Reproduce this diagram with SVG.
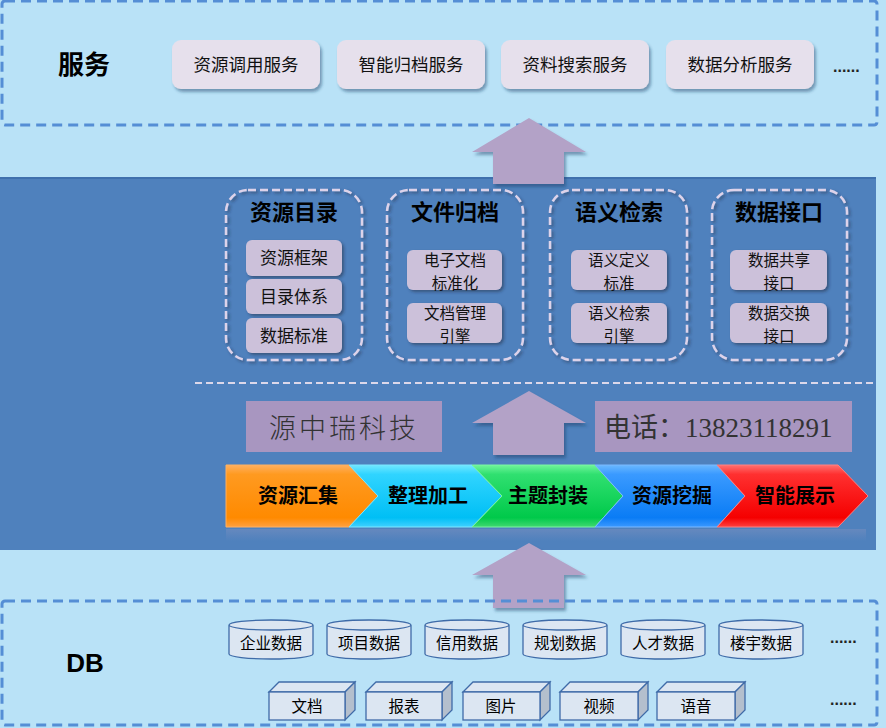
<svg xmlns="http://www.w3.org/2000/svg" width="886" height="728" viewBox="0 0 886 728">
<defs>
<filter id="sh" x="-10%" y="-10%" width="125%" height="140%">
<feDropShadow dx="2" dy="3" stdDeviation="1.5" flood-color="#1f3a60" flood-opacity="0.45"/>
</filter>
<filter id="sh2" x="-10%" y="-10%" width="125%" height="140%">
<feDropShadow dx="2" dy="2" stdDeviation="1.5" flood-color="#1f2a40" flood-opacity="0.5"/>
</filter>
<linearGradient id="gO" x1="0" y1="0" x2="0" y2="1"><stop offset="0" stop-color="#ffb060"/><stop offset="0.15" stop-color="#ff9a20"/><stop offset="0.85" stop-color="#ff8a00"/><stop offset="1" stop-color="#ffa040"/></linearGradient>
<linearGradient id="gC" x1="0" y1="0" x2="0" y2="1"><stop offset="0" stop-color="#70e8ff"/><stop offset="0.15" stop-color="#30d4ff"/><stop offset="0.85" stop-color="#00bff5"/><stop offset="1" stop-color="#40d0ff"/></linearGradient>
<linearGradient id="gG" x1="0" y1="0" x2="0" y2="1"><stop offset="0" stop-color="#70f59a"/><stop offset="0.15" stop-color="#30e070"/><stop offset="0.85" stop-color="#00c94a"/><stop offset="1" stop-color="#40d870"/></linearGradient>
<linearGradient id="gB" x1="0" y1="0" x2="0" y2="1"><stop offset="0" stop-color="#6ab8ff"/><stop offset="0.15" stop-color="#3a9aff"/><stop offset="0.85" stop-color="#0a7cf5"/><stop offset="1" stop-color="#3a98ff"/></linearGradient>
<linearGradient id="gR" x1="0" y1="0" x2="0" y2="1"><stop offset="0" stop-color="#ff7070"/><stop offset="0.15" stop-color="#ff3030"/><stop offset="0.85" stop-color="#f50000"/><stop offset="1" stop-color="#ff4040"/></linearGradient>
<linearGradient id="refl" x1="0" y1="0" x2="0" y2="1"><stop offset="0" stop-color="#8f96c0" stop-opacity="0.35"/><stop offset="1" stop-color="#8f96c0" stop-opacity="0"/></linearGradient>
</defs>
<style>
.zh{font-family:"Noto Sans CJK SC","Liberation Sans",sans-serif;}
.svc{fill:#e6e0ec;filter:url(#sh);}
.svct{font-size:17.5px;fill:#111;text-anchor:middle;}
.outer{fill:none;stroke:#558ed5;stroke-width:3;stroke-dasharray:10 6;}
.grp{fill:none;stroke:#ddd3ea;stroke-width:2.5;stroke-dasharray:8 4;filter:url(#sh2);}
.gt{font-size:22px;font-weight:bold;fill:#000;text-anchor:middle;}
.ib{fill:#ccc1da;filter:url(#sh2);}
.it{font-size:17px;fill:#111;text-anchor:middle;}
.it2{font-size:15.5px;fill:#111;text-anchor:middle;}
.arrow{fill:#b3a2c7;filter:url(#sh);}
.ct{font-size:20px;font-weight:bold;fill:#000;text-anchor:middle;}
.cyl{fill:#dce6f2;stroke:#3f6ba8;stroke-width:1.3;}
.cylt{font-size:15.5px;fill:#000;text-anchor:middle;}
.bxf{fill:#dce6f2;stroke:#3f6ba8;stroke-width:1.3;}
.bxs{fill:#b4bfcd;stroke:#3f6ba8;stroke-width:1.3;}
.dots{font-family:"Liberation Sans",sans-serif;font-size:16px;font-weight:bold;fill:#222;}
</style>
<rect x="0" y="0" width="886" height="728" fill="#b9e2f7"/>
<!-- middle band -->
<rect x="0" y="177" width="876" height="373" fill="#4f81bd"/>
<line x1="0" y1="178" x2="876" y2="178" stroke="#3f70ad" stroke-width="2"/>

<!-- service layer -->
<g id="service-layer">
<rect class="outer" x="2" y="1" width="875" height="124" rx="3"/>
<text class="zh" x="84" y="74" font-size="26" font-weight="bold" text-anchor="middle">服务</text>
</g>
<g id="svc1"><rect class="svc" x="172" y="40" width="148" height="49" rx="9"/><text class="zh svct" x="246" y="71">资源调用服务</text></g>
<g id="svc2"><rect class="svc" x="337" y="40" width="148" height="49" rx="9"/><text class="zh svct" x="411" y="71">智能归档服务</text></g>
<g id="svc3"><rect class="svc" x="501" y="40" width="148" height="49" rx="9"/><text class="zh svct" x="575" y="71">资料搜索服务</text></g>
<g id="svc4"><rect class="svc" x="666" y="40" width="148" height="49" rx="9"/><text class="zh svct" x="740" y="71">数据分析服务</text></g>
<text class="dots" x="833" y="72">......</text>

<!-- groups -->
<g id="g-catalog">
<rect class="grp" x="226" y="190" width="136" height="170" rx="22"/>
<text class="zh gt" x="294" y="220">资源目录</text>
<rect class="ib" x="246" y="240" width="96" height="36" rx="6"/><text class="zh it" x="294" y="264">资源框架</text>
<rect class="ib" x="246" y="279" width="96" height="35" rx="6"/><text class="zh it" x="294" y="303">目录体系</text>
<rect class="ib" x="246" y="318" width="96" height="35" rx="6"/><text class="zh it" x="294" y="342">数据标准</text>
</g>
<g id="g-archive">
<rect class="grp" x="387" y="190" width="136" height="170" rx="22"/>
<text class="zh gt" x="455" y="220">文件归档</text>
<rect class="ib" x="407" y="250" width="95" height="40" rx="6"/><text class="zh it2" x="455" y="266"><tspan x="455">电子文档</tspan><tspan x="455" dy="22.6">标准化</tspan></text>
<rect class="ib" x="407" y="303" width="95" height="40" rx="6"/><text class="zh it2" x="455" y="319"><tspan x="455">文档管理</tspan><tspan x="455" dy="22.6">引擎</tspan></text>
</g>
<g id="g-semantic">
<rect class="grp" x="550" y="190" width="137" height="170" rx="22"/>
<text class="zh gt" x="619" y="220">语义检索</text>
<rect class="ib" x="571" y="250" width="96" height="40" rx="6"/><text class="zh it2" x="619" y="266"><tspan x="619">语义定义</tspan><tspan x="619" dy="22.6">标准</tspan></text>
<rect class="ib" x="571" y="303" width="96" height="40" rx="6"/><text class="zh it2" x="619" y="319"><tspan x="619">语义检索</tspan><tspan x="619" dy="22.6">引擎</tspan></text>
</g>
<g id="g-interface">
<rect class="grp" x="712" y="190" width="135" height="170" rx="22"/>
<text class="zh gt" x="779" y="220">数据接口</text>
<rect class="ib" x="730" y="250" width="97" height="40" rx="6"/><text class="zh it2" x="779" y="266"><tspan x="779">数据共享</tspan><tspan x="779" dy="22.6">接口</tspan></text>
<rect class="ib" x="730" y="303" width="97" height="40" rx="6"/><text class="zh it2" x="779" y="319"><tspan x="779">数据交换</tspan><tspan x="779" dy="22.6">接口</tspan></text>
</g>

<line x1="195" y1="383" x2="876" y2="383" stroke="#dcd8ea" stroke-width="2" stroke-dasharray="7 4"/>

<g id="brand">
<rect x="246" y="401" width="196" height="51" fill="#a896c0"/>
<text x="269" y="438" font-family="Noto Sans CJK SC,sans-serif" font-size="27" fill="#333" letter-spacing="3" font-weight="300">源中瑞科技</text>
</g>
<g id="phone">
<rect x="595" y="401" width="257" height="51" fill="#a896c0"/>
<text x="604" y="437" font-family="Liberation Serif,Noto Sans CJK SC,serif" font-size="27" fill="#333">电话：13823118291</text>
</g>

<!-- chevrons -->
<g id="process">
<rect x="226" y="529" width="640" height="12" fill="url(#refl)"/>
<g id="c1"><path d="M226,465 L349,465 L378,496 L349,527 L226,527 Z" fill="url(#gO)" stroke="#ffb060" stroke-width="1"/><text class="zh ct" x="298" y="503">资源汇集</text></g>
<g id="c2"><path d="M349,465 L472,465 L502,496 L472,527 L349,527 L378,496 Z" fill="url(#gC)" stroke="#7ae6ff" stroke-width="1"/><text class="zh ct" x="428" y="503">整理加工</text></g>
<g id="c3"><path d="M472,465 L595,465 L623,496 L595,527 L472,527 L502,496 Z" fill="url(#gG)" stroke="#7af5a0" stroke-width="1"/><text class="zh ct" x="548" y="503">主题封装</text></g>
<g id="c4"><path d="M595,465 L717,465 L745,496 L717,527 L595,527 L623,496 Z" fill="url(#gB)" stroke="#7ab8ff" stroke-width="1"/><text class="zh ct" x="672" y="503">资源挖掘</text></g>
<g id="c5"><path d="M717,465 L838,465 L868,496 L838,527 L717,527 L745,496 Z" fill="url(#gR)" stroke="#ff8080" stroke-width="1"/><text class="zh ct" x="795" y="503">智能展示</text></g>
</g>

<!-- arrows -->
<g id="connectors">
<path class="arrow" d="M529,118 L586,152 L564,152 L564,184 L493,184 L493,152 L472,152 Z"/>
<path class="arrow" d="M529,391 L586,423 L564,423 L564,455 L493,455 L493,423 L472,423 Z"/>
<path class="arrow" d="M529,543 L586,575 L564,575 L564,608 L493,608 L493,575 L472,575 Z"/>
</g>

<!-- DB layer -->
<g id="db-layer">
<rect class="outer" x="2" y="601" width="875" height="124" rx="3"/>
<text x="85" y="672" font-family="Liberation Sans,sans-serif" font-size="26" font-weight="bold" text-anchor="middle">DB</text>
</g>
<g id="cyl1"><path class="cyl" d="M229,625 L229,654 A42,5 0 0 0 313,654 L313,625 A42,5 0 0 0 229,625 A42,5 0 0 0 313,625"/><text class="zh cylt" x="271" y="649">企业数据</text></g>
<g id="cyl2"><path class="cyl" d="M327,625 L327,654 A42,5 0 0 0 411,654 L411,625 A42,5 0 0 0 327,625 A42,5 0 0 0 411,625"/><text class="zh cylt" x="369" y="649">项目数据</text></g>
<g id="cyl3"><path class="cyl" d="M425,625 L425,654 A42,5 0 0 0 509,654 L509,625 A42,5 0 0 0 425,625 A42,5 0 0 0 509,625"/><text class="zh cylt" x="467" y="649">信用数据</text></g>
<g id="cyl4"><path class="cyl" d="M523,625 L523,654 A42,5 0 0 0 607,654 L607,625 A42,5 0 0 0 523,625 A42,5 0 0 0 607,625"/><text class="zh cylt" x="565" y="649">规划数据</text></g>
<g id="cyl5"><path class="cyl" d="M621,625 L621,654 A42,5 0 0 0 705,654 L705,625 A42,5 0 0 0 621,625 A42,5 0 0 0 705,625"/><text class="zh cylt" x="663" y="649">人才数据</text></g>
<g id="cyl6"><path class="cyl" d="M719,625 L719,654 A42,5 0 0 0 803,654 L803,625 A42,5 0 0 0 719,625 A42,5 0 0 0 803,625"/><text class="zh cylt" x="761" y="649">楼宇数据</text></g>
<text class="dots" x="830" y="643">......</text>

<g id="bx1"><path class="bxf" d="M269,692 L279,682 L355,682 L345,692 Z"/><path class="bxs" d="M345,692 L355,682 L355,710 L345,720 Z"/><rect class="bxf" x="269" y="692" width="76" height="28"/><text class="zh cylt" x="307" y="712">文档</text></g>
<g id="bx2"><path class="bxf" d="M366,692 L376,682 L452,682 L442,692 Z"/><path class="bxs" d="M442,692 L452,682 L452,710 L442,720 Z"/><rect class="bxf" x="366" y="692" width="76" height="28"/><text class="zh cylt" x="404" y="712">报表</text></g>
<g id="bx3"><path class="bxf" d="M463,692 L473,682 L550,682 L540,692 Z"/><path class="bxs" d="M540,692 L550,682 L550,710 L540,720 Z"/><rect class="bxf" x="463" y="692" width="77" height="28"/><text class="zh cylt" x="501" y="712">图片</text></g>
<g id="bx4"><path class="bxf" d="M560,692 L570,682 L648,682 L638,692 Z"/><path class="bxs" d="M638,692 L648,682 L648,710 L638,720 Z"/><rect class="bxf" x="560" y="692" width="78" height="28"/><text class="zh cylt" x="599" y="712">视频</text></g>
<g id="bx5"><path class="bxf" d="M657,692 L667,682 L745,682 L735,692 Z"/><path class="bxs" d="M735,692 L745,682 L745,710 L735,720 Z"/><rect class="bxf" x="657" y="692" width="78" height="28"/><text class="zh cylt" x="696" y="712">语音</text></g>
<text class="dots" x="830" y="705">......</text>
</svg>
